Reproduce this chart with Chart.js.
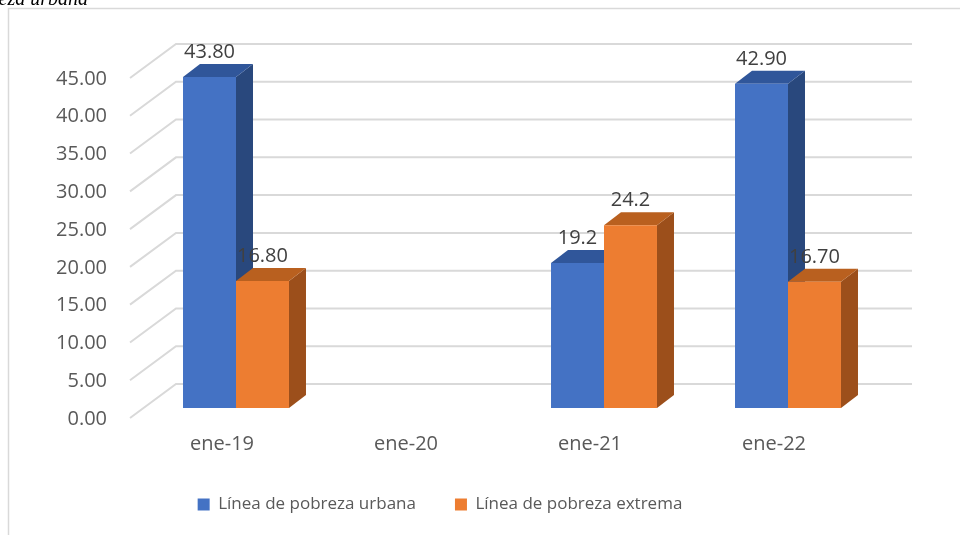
<!DOCTYPE html>
<html>
<head>
<meta charset="utf-8">
<script src="https://cdn.jsdelivr.net/npm/chart.js@4/dist/chart.umd.min.js"></script>
<style>
  html, body { margin: 0; padding: 0; background: #fff; }
  canvas { display: block; }
</style>
</head>
<body>
<canvas id="chart" width="960" height="535"></canvas>
<script>
const categories    = ['ene-19', 'ene-20', 'ene-21', 'ene-22']
const urbana        = [43.8, null, 19.2, 42.9]
const extrema       = [16.8, null, 24.2, 16.7]
const urbanaLabels  = ['43.80', '', '19.2', '42.90']
const extremaLabels = ['16.80', '', '24.2', '16.70']
const seriesNames   = ['Línea de pobreza urbana', 'Línea de pobreza extrema']

const FONT  = "'Open Sans', sans-serif"
const GREY  = '#595959'
const GRID  = '#d9d9d9'

// depth of each bar, and where the front edge / back wall sit relative to the bar faces
const DEPTH = { dx: 17, dy: 13 }
const FRONT = { dx: -14, dy: 10 }
const BACK  = { dx: 32, dy: -24 }

const FACES = [
  { front: '#4472C4', top: '#30569A', side: '#29487D' },
  { front: '#ED7D31', top: '#B9601F', side: '#9C4F1B' },
]

// ── back wall, floor diagonals and bar extrusions ──
const box3d = {
  id: 'box3d',
  beforeDatasetsDraw(chart) {
    const { ctx, chartArea, scales: { y } } = chart
    ctx.save()

    // frame
    ctx.strokeStyle = GRID
    ctx.lineWidth = 1.5
    ctx.beginPath()
    ctx.moveTo(8.5, 535)
    ctx.lineTo(8.5, 8.5)
    ctx.lineTo(960, 8.5)
    ctx.stroke()

    // gridlines
    ctx.strokeStyle = GRID
    ctx.lineWidth = 2
    y.ticks.forEach(t => {
      const py = y.getPixelForValue(t.value)
      ctx.beginPath()
      ctx.moveTo(chartArea.left + FRONT.dx, py + FRONT.dy)
      ctx.lineTo(chartArea.left + BACK.dx, py + BACK.dy)
      ctx.lineTo(chartArea.right + BACK.dx, py + BACK.dy)
      ctx.stroke()
    })

    // sides and tops, left to right so later bars cover earlier ones
    const y0 = y.getPixelForValue(0)
    categories.forEach((c, i) => {
      [0, 1].forEach(d => {
        const bar = chart.getDatasetMeta(d).data[i]
        const v = chart.data.datasets[d].data[i]
        if (v == null || !bar) return
        const l = bar.x - bar.width / 2
        const r = bar.x + bar.width / 2
        const t = bar.y
        ctx.fillStyle = FACES[d].side
        ctx.beginPath()
        ctx.moveTo(r, t)
        ctx.lineTo(r + DEPTH.dx, t - DEPTH.dy)
        ctx.lineTo(r + DEPTH.dx, y0 - DEPTH.dy)
        ctx.lineTo(r, y0)
        ctx.closePath()
        ctx.fill()
        ctx.fillStyle = FACES[d].top
        ctx.beginPath()
        ctx.moveTo(l, t)
        ctx.lineTo(r, t)
        ctx.lineTo(r + DEPTH.dx, t - DEPTH.dy)
        ctx.lineTo(l + DEPTH.dx, t - DEPTH.dy)
        ctx.closePath()
        ctx.fill()
      })
    })
    ctx.restore()
  },

  // ── value labels ──
  afterDatasetsDraw(chart) {
    const { ctx } = chart
    const labels = [urbanaLabels, extremaLabels]
    ctx.save()
    ctx.font = '20px ' + FONT
    ctx.fillStyle = '#404040'
    ctx.textAlign = 'center'
    ctx.textBaseline = 'middle'
    ;[0, 1].forEach(d => {
      chart.getDatasetMeta(d).data.forEach((bar, i) => {
        if (!labels[d][i]) return
        ctx.fillText(labels[d][i], bar.x, bar.y - 25)
      })
    })

    // cut-off caption above the chart
    ctx.font = "italic 20px 'Liberation Serif', serif"
    ctx.fillStyle = '#000'
    ctx.textAlign = 'right'
    ctx.textBaseline = 'alphabetic'
    ctx.fillText('pobreza urbana', 88, 5)
    ctx.restore()
  }
}

new Chart(document.getElementById('chart'), {
  type: 'bar',
  data: {
    labels: categories,
    datasets: [
      { label: seriesNames[0], data: urbana,  backgroundColor: FACES[0].front },
      { label: seriesNames[1], data: extrema, backgroundColor: FACES[1].front },
    ]
  },
  options: {
    responsive: false,
    animation: false,
    categoryPercentage: 0.576,
    barPercentage: 1,
    layout: { padding: { top: 68, right: 80, bottom: 12, left: 0 } },
    plugins: {
      tooltip: { enabled: false },
      legend: {
        position: 'bottom',
        labels: {
          boxWidth: 12,
          boxHeight: 12,
          padding: 39,
          color: GREY,
          font: { family: FONT, size: 17 }
        }
      }
    },
    scales: {
      y: {
        min: 0,
        max: 45,
        afterFit: s => { s.width = 144 },
        border: { display: false },
        grid: { display: false, drawTicks: false },
        ticks: {
          stepSize: 5,
          padding: 37,
          labelOffset: 11,
          color: GREY,
          font: { family: FONT, size: 20 },
          callback: v => Number(v).toFixed(2)
        }
      },
      x: {
        afterFit: s => { s.height = 49 },
        border: { display: false },
        grid: { display: false, drawTicks: false },
        ticks: {
          padding: 24,
          labelOffset: -14,
          color: GREY,
          font: { family: FONT, size: 20 }
        }
      }
    }
  },
  plugins: [box3d]
})
</script>
</body>
</html>
